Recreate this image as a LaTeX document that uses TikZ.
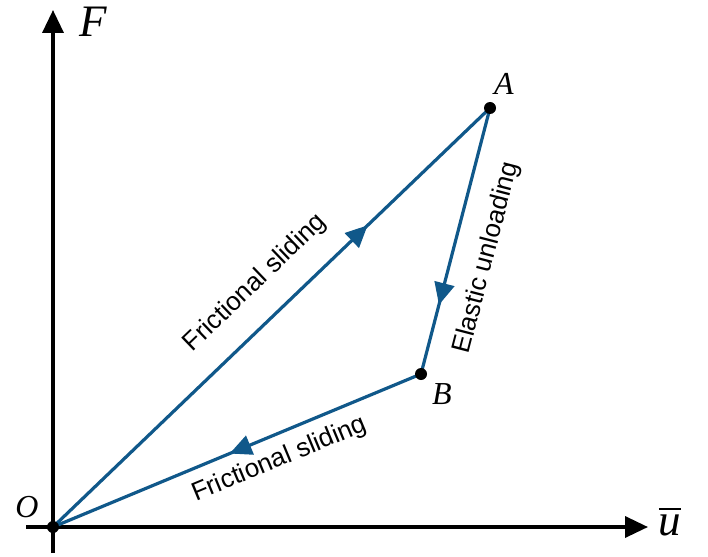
\documentclass[tikz,border=0pt]{standalone}
\usepackage{fontspec}
\setsansfont{Liberation Sans}
\newfontfamily\serifit{Liberation Serif}
\usetikzlibrary{arrows.meta,decorations.markings}

\definecolor{pathblue}{RGB}{16,88,138}
\newcommand{\ubarlbl}{\setbox0\hbox{\serifit\itshape u}\vbox{\hrule height 1.8pt\kern 5pt\box0}}

\begin{document}
\begin{tikzpicture}[
    x=1pt, y=-1pt,
    axis/.style={line width=3.5pt, -{Triangle[length=23pt,width=21pt]}},
    branch/.style={
        line width=3.2pt, draw=pathblue,
        postaction={decorate},
        decoration={markings,
            mark=at position #1 with {\arrow{Triangle[length=22pt,width=20pt]}}},
    },
    dot/.style={circle, fill=black, inner sep=0pt, minimum size=12pt},
    ptlabel/.style={font=\serifit\itshape\fontsize{32}{36}\selectfont, inner sep=0pt},
    axlabel/.style={font=\serifit\itshape\fontsize{45}{50}\selectfont, inner sep=0pt},
    lbl/.style={font=\sffamily\fontsize{26}{30}\selectfont, sloped, inner sep=0pt},
]
\useasboundingbox (0,0) rectangle (708,556);

% Axes
\coordinate (ybot) at (53,553);
\coordinate (ytop) at (53,10);
\coordinate (xleft) at (26,527);
\coordinate (xright) at (648,527);
\draw[axis] (ybot) -- (ytop);
\draw[axis] (xleft) -- (xright);

\node[axlabel] (flbl) at (93,22) {F};
\node[axlabel] (ulbl) at (670,522) {\ubarlbl};

% Points
\coordinate (O) at (53,527);
\coordinate (A) at (490,108);
\coordinate (B) at (421,374);

% Loading path
\draw[branch=0.72] (O) -- node[lbl, pos=0.52, above=22pt] {Frictional sliding} (A);
\draw[branch=0.74] (A) -- node[lbl, pos=0.53, below=21pt] {Elastic unloading} (B);
\draw[branch=0.52] (B) -- node[lbl, pos=0.41, below=11pt] {Frictional sliding} (O);

\node[dot] (Odot) at (O) {};
\node[dot] (Adot) at (A) {};
\node[dot] (Bdot) at (B) {};

\node[ptlabel] (olbl) at (27,507) {O};
\node[ptlabel] (albl) at (504,84) {A};
\node[ptlabel] (blbl) at (442,394) {B};

\end{tikzpicture}
\end{document}
